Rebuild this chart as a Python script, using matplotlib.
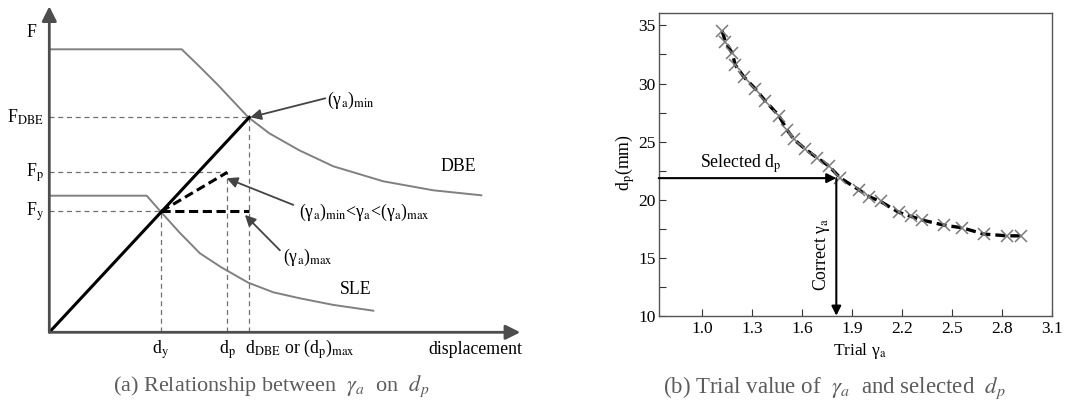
import matplotlib
matplotlib.use("Agg")
import matplotlib.pyplot as plt
from matplotlib.ticker import MultipleLocator, FixedLocator

plt.rcParams['font.family'] = ['Liberation Serif', 'DejaVu Serif']
plt.rcParams['mathtext.fontset'] = 'stix'

# ---------------- data: panel (a) schematic ----------------
dy, Fy = 5.6, 6.05
dp, Fp = 8.9, 8.0
d_dbe, F_dbe = 10.0, 10.75
dbe_d = [0, 6.62, 7.5, 8.4, 9.95, 11.0, 12.5, 14.2, 16.7, 19.2, 21.6]
dbe_F = [14.15, 14.15, 13.3, 12.4, 10.75, 9.95, 9.1, 8.3, 7.55, 7.1, 6.85]
sle_d = [0, 4.87, 5.53, 6.5, 7.53, 8.6, 9.95, 11.2, 12.53, 14.2, 16.2]
sle_F = [6.83, 6.83, 6.08, 5.0, 3.95, 3.25, 2.48, 2.0, 1.7, 1.37, 1.08]

# ---------------- data: panel (b) ----------------
trial_gamma = [1.12, 1.14, 1.18, 1.20, 1.25, 1.32, 1.38, 1.46, 1.51, 1.55,
               1.62, 1.69, 1.76, 1.83, 1.94, 2.00, 2.07, 2.18, 2.25, 2.32,
               2.45, 2.56, 2.69, 2.83, 2.91]
dp_mm = [34.54, 33.60, 32.62, 31.58, 30.58, 29.53, 28.48, 27.24, 26.0, 25.2,
         24.34, 23.6, 22.9, 21.85, 20.85, 20.26, 19.84, 18.9, 18.57, 18.24,
         17.8, 17.57, 17.03, 16.88, 16.88]
correct_gamma = 1.805
selected_dp = 21.85
xticks_b = [1.0, 1.3, 1.6, 1.9, 2.2, 2.5, 2.8, 3.1]

W, H = 1065, 405
fig = plt.figure(figsize=(W / 100, H / 100), dpi=100)

# ================= panel (a) =================
axa = fig.add_axes([49.3 / W, (H - 332.3) / H, (525 - 49.3) / W, 332.3 / H])
axa.set_xlim(0, (525 - 49.3) / 20)
axa.set_ylim(0, 332.3 / 20)
axa.axis('off')

axis_col = '#4d4d4d'
curve_col = '#808080'
ref_col = '#707070'
fs_a = 12.8

# axes arrows
axa.annotate('', xy=(23.55, 0), xytext=(0, 0),
             arrowprops=dict(arrowstyle='-|>', color=axis_col, lw=2,
                             mutation_scale=22, shrinkA=0, shrinkB=0),
             annotation_clip=False)
axa.annotate('', xy=(0, 16.3), xytext=(0, 0),
             arrowprops=dict(arrowstyle='-|>', color=axis_col, lw=2,
                             mutation_scale=22, shrinkA=0, shrinkB=0),
             annotation_clip=False)

# spectra
axa.plot(dbe_d, dbe_F, color=curve_col, lw=1.4, solid_joinstyle='round')
axa.plot(sle_d, sle_F, color=curve_col, lw=1.4, solid_joinstyle='round')

# reference dashed lines
ref_kw = dict(color=ref_col, lw=0.9, ls=(0, (4, 3)))
axa.plot([0, d_dbe], [F_dbe, F_dbe], **ref_kw)
axa.plot([d_dbe, d_dbe], [0, F_dbe], **ref_kw)
axa.plot([0, dp], [Fp, Fp], **ref_kw)
axa.plot([dp, dp], [0, Fp], **ref_kw)
axa.plot([0, dy], [Fy, Fy], **ref_kw)
axa.plot([dy, dy], [0, Fy], **ref_kw)

# capacity lines
axa.plot([0, d_dbe], [0, F_dbe], color='black', lw=2.2)
axa.plot([dy, d_dbe], [Fy, Fy], color='black', lw=2.2, ls=(0, (3, 1.5)))
axa.plot([dy, dp], [Fy, Fp], color='black', lw=2.2, ls=(0, (3, 1.5)))

# labels
axa.text(-0.88, 15.0, 'F', fontsize=fs_a, ha='center', va='center')
axa.text(-0.25, F_dbe, r'F$_{\mathrm{DBE}}$', fontsize=fs_a, ha='right', va='center')
axa.text(-0.25, Fp, r'F$_{\mathrm{p}}$', fontsize=fs_a, ha='right', va='center')
axa.text(-0.25, Fy, r'F$_{\mathrm{y}}$', fontsize=fs_a, ha='right', va='center')
axa.text(dy - 0.05, -0.85, r'd$_{\mathrm{y}}$', fontsize=fs_a, ha='center', va='center')
axa.text(dp, -0.85, r'd$_{\mathrm{p}}$', fontsize=fs_a, ha='center', va='center')
axa.text(9.8, -0.85, r'd$_{\mathrm{DBE}}$ or (d$_{\mathrm{p}}$)$_{\mathrm{max}}$',
         fontsize=fs_a, ha='left', va='center')
axa.text(18.95, -0.85, 'displacement', fontsize=fs_a, ha='left', va='center')
axa.text(20.45, 8.3, 'DBE', fontsize=fs_a, ha='center', va='center')
axa.text(15.3, 2.12, 'SLE', fontsize=fs_a, ha='center', va='center')

ann_kw = dict(arrowstyle='-|>', color='#444444', lw=1.3, mutation_scale=16,
              shrinkA=0, shrinkB=0)
axa.annotate('', xy=(10.05, F_dbe), xytext=(13.8, 11.7), arrowprops=ann_kw)
axa.text(13.9, 11.6, r'(γ$_{\mathrm{a}}$)$_{\mathrm{min}}$', fontsize=fs_a,
         ha='left', va='center')
axa.annotate('', xy=(8.87, 7.7), xytext=(12.2, 6.37), arrowprops=ann_kw)
axa.text(12.5, 6.0,
         r'(γ$_{\mathrm{a}}$)$_{\mathrm{min}}$<γ$_{\mathrm{a}}$<(γ$_{\mathrm{a}}$)$_{\mathrm{max}}$',
         fontsize=fs_a, ha='left', va='center')
axa.annotate('', xy=(9.78, 5.87), xytext=(11.53, 4.1), arrowprops=ann_kw)
axa.text(11.7, 3.75, r'(γ$_{\mathrm{a}}$)$_{\mathrm{max}}$', fontsize=fs_a,
         ha='left', va='center')

fig.text(271.7 / W, 1 - 386.7 / H,
         r'(a) Relationship between  $\gamma_a$  on  $d_p$',
         fontsize=16, color='#5c5c5c', ha='center', va='center')

# ================= panel (b) =================
axb = fig.add_axes([658.7 / W, (H - 315.7) / H, (1052.3 - 658.7) / W, 303 / H])
axb.plot(trial_gamma, dp_mm, color='black', lw=2.4, ls=(0, (3, 1.5)),
         marker='x', ms=8, mew=1.1, mec='#7a7a7a')
axb.set_xlim(0.74, 3.1)
axb.set_ylim(10, 36.1)
axb.xaxis.set_major_locator(FixedLocator(xticks_b))
axb.set_xticklabels([f'{v:.1f}' for v in xticks_b])
axb.yaxis.set_major_locator(MultipleLocator(5))
axb.yaxis.set_minor_locator(MultipleLocator(2.5))
axb.tick_params(axis='both', which='both', direction='in', colors='#333333',
                labelcolor='black', labelsize=12.5)
axb.tick_params(axis='both', which='major', length=5, width=0.8)
axb.tick_params(axis='y', which='minor', length=5, width=0.8)
axb.tick_params(axis='x', pad=4)
axb.tick_params(axis='y', pad=2)
for s in axb.spines.values():
    s.set_color('#555555')
    s.set_linewidth(1.0)

arr_kw = dict(arrowstyle='-|>', color='black', lw=1.5, mutation_scale=14,
              shrinkA=0, shrinkB=0)
axb.annotate('', xy=(correct_gamma, selected_dp), xytext=(0.74, selected_dp),
             arrowprops=arr_kw)
axb.annotate('', xy=(correct_gamma, 10), xytext=(correct_gamma, selected_dp),
             arrowprops=arr_kw)
axb.text(1.23, selected_dp + 0.25, r'Selected d$_{\mathrm{p}}$', fontsize=12.8,
         ha='center', va='bottom')
axb.text(1.715, 15.3, r'Correct γ$_{\mathrm{a}}$', fontsize=12.8, rotation=90,
         ha='center', va='center')

fig.text(625 / W, 1 - 163 / H, r'd$_{\mathrm{p}}$(mm)', fontsize=12.8,
         rotation=90, ha='center', va='center')
fig.text(860 / W, 1 - 351 / H, r'Trial γ$_{\mathrm{a}}$', fontsize=12.5,
         ha='center', va='center')
fig.text(834 / W, 1 - 387.5 / H,
         r'(b) Trial value of  $\gamma_a$  and selected  $d_p$',
         fontsize=16.5, color='#5c5c5c', ha='center', va='center')

fig.savefig('out.png', dpi=100)
